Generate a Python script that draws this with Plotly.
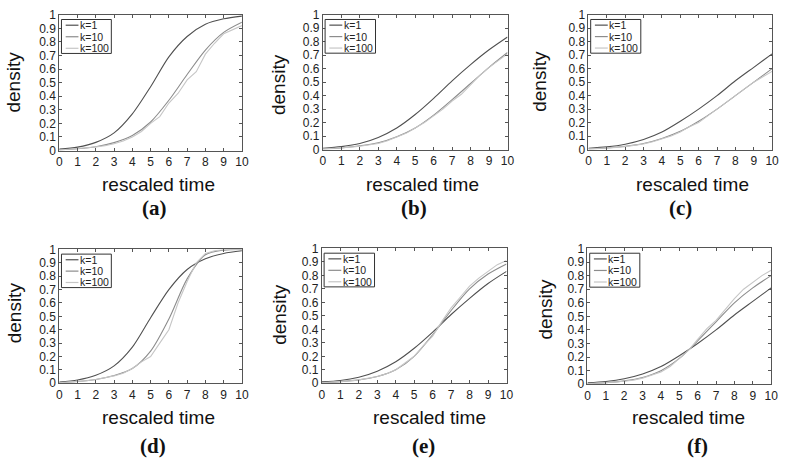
import plotly.graph_objects as go

W, H = 788, 463

# ---------------- data ----------------
x_coarse = [0, 1, 2, 3, 4, 5, 6, 7, 8, 9, 10]
x_fine = [0, 0.5, 1, 1.5, 2, 2.5, 3, 3.5, 4, 4.5, 5, 5.5, 6, 6.5, 7, 7.5, 8, 8.5, 9, 9.5, 10]

series_names = ["k=1", "k=10", "k=100"]
panel_labels = ["(a)", "(b)", "(c)", "(d)", "(e)", "(f)"]
x_ticks = [0, 1, 2, 3, 4, 5, 6, 7, 8, 9, 10]
y_ticks = [0, 0.1, 0.2, 0.3, 0.4, 0.5, 0.6, 0.7, 0.8, 0.9, 1]
y_tick_text = ["0", "0.1", "0.2", "0.3", "0.4", "0.5", "0.6", "0.7", "0.8", "0.9", "1"]

k1_a = [0.01, 0.025, 0.06, 0.13, 0.27, 0.47, 0.69, 0.84, 0.93, 0.97, 0.99]
k1_b = [0.01, 0.022, 0.045, 0.09, 0.16, 0.26, 0.38, 0.51, 0.63, 0.74, 0.835]
k1_c = [0.01, 0.02, 0.04, 0.075, 0.13, 0.21, 0.30, 0.40, 0.51, 0.61, 0.71]
k1_d = [0.01, 0.025, 0.06, 0.13, 0.27, 0.49, 0.70, 0.85, 0.93, 0.97, 0.99]
k1_e = [0.01, 0.02, 0.045, 0.09, 0.16, 0.26, 0.38, 0.51, 0.63, 0.74, 0.83]
k1_f = [0.01, 0.02, 0.04, 0.075, 0.13, 0.21, 0.30, 0.40, 0.51, 0.61, 0.71]

k10_a = [0.005, 0.013, 0.028, 0.058, 0.11, 0.21, 0.37, 0.56, 0.74, 0.87, 0.945]
k10_b = [0.005, 0.012, 0.028, 0.05, 0.095, 0.16, 0.255, 0.37, 0.49, 0.61, 0.72]
k10_c = [0.005, 0.011, 0.024, 0.045, 0.082, 0.135, 0.21, 0.30, 0.40, 0.50, 0.60]
k10_d = [0.005, 0.013, 0.028, 0.058, 0.11, 0.24, 0.48, 0.78, 0.96, 0.995, 1.0]
k10_e = [0.005, 0.012, 0.025, 0.05, 0.10, 0.20, 0.36, 0.54, 0.70, 0.81, 0.885]
k10_f = [0.005, 0.012, 0.025, 0.05, 0.10, 0.19, 0.32, 0.46, 0.60, 0.71, 0.80]

k100_a = [0.004, 0.008, 0.013, 0.02, 0.027, 0.035, 0.05, 0.07, 0.10, 0.14, 0.20,
          0.25, 0.35, 0.42, 0.52, 0.58, 0.71, 0.79, 0.86, 0.89, 0.92]
k100_b = [0.004, 0.007, 0.012, 0.018, 0.025, 0.033, 0.045, 0.065, 0.09, 0.12, 0.16,
          0.20, 0.25, 0.30, 0.36, 0.41, 0.48, 0.55, 0.61, 0.66, 0.71]
k100_c = [0.004, 0.007, 0.011, 0.016, 0.022, 0.03, 0.042, 0.058, 0.078, 0.10, 0.13,
          0.17, 0.20, 0.25, 0.30, 0.35, 0.40, 0.45, 0.50, 0.54, 0.58]
k100_d = [0.004, 0.008, 0.013, 0.02, 0.028, 0.04, 0.055, 0.075, 0.11, 0.16, 0.20,
          0.30, 0.40, 0.60, 0.76, 0.90, 0.97, 0.99, 1.0, 1.0, 1.0]
k100_e = [0.004, 0.007, 0.012, 0.018, 0.025, 0.035, 0.05, 0.07, 0.10, 0.15, 0.20,
          0.28, 0.35, 0.46, 0.56, 0.64, 0.72, 0.78, 0.83, 0.88, 0.91]
k100_f = [0.004, 0.007, 0.011, 0.016, 0.022, 0.03, 0.045, 0.065, 0.09, 0.13, 0.19,
          0.25, 0.33, 0.41, 0.47, 0.55, 0.63, 0.70, 0.75, 0.80, 0.84]

panels = [
    (k1_a, k10_a, k100_a), (k1_b, k10_b, k100_b), (k1_c, k10_c, k100_c),
    (k1_d, k10_d, k100_d), (k1_e, k10_e, k100_e), (k1_f, k10_f, k100_f),
]

# ---------------- layout (pixel boxes: left, right, top, bottom) ----------------
boxes = [
    (57, 242, 8, 148), (324, 511, 8, 147), (593, 779, 8, 147),
    (57, 242, 250, 388), (323, 510, 249, 388), (592, 778, 249, 389),
]
xtitle_pos = [(157, 183), (425, 183), (698, 183), (158, 423), (432, 423), (694, 423)]
ylabel_pos = [(11, 77), (279, 80), (544, 77), (12, 315), (280, 317), (550, 312)]
plabel_pos = [(153, 207), (416, 207), (686, 207), (152, 453), (426, 453), (703, 453)]

colors = ["#505050", "#8c8c8c", "#c6c6c6"]
axis_col = "#555555"
font_fam = "Liberation Sans, Arial, sans-serif"

fig = go.Figure()
layout = dict(
    width=W, height=H, margin=dict(l=0, r=0, t=0, b=0),
    paper_bgcolor="white", plot_bgcolor="white", showlegend=False,
)
annotations = []
shapes = []

def px2x(p):
    return p / W

def px2y(p):
    return 1 - p / H

for i, (ser, box) in enumerate(zip(panels, boxes)):
    n = "" if i == 0 else str(i + 1)
    xa, ya = "x" + n, "y" + n
    l, r, t, b = box
    xs_list = [x_coarse, x_coarse, x_fine]
    for j, (yv, xv) in enumerate(zip(ser, xs_list)):
        fig.add_trace(go.Scatter(
            x=xv, y=yv, mode="lines", name=series_names[j], xaxis=xa, yaxis=ya,
            line=dict(color=colors[j], width=1.1,
                      shape="spline" if j < 2 else "linear", smoothing=0.8),
            showlegend=False, hoverinfo="skip"))
    common = dict(showline=True, linecolor=axis_col, linewidth=1, mirror="ticks",
                  ticks="inside", ticklen=3, tickcolor=axis_col, showgrid=False,
                  zeroline=False,
                  tickfont=dict(family=font_fam, size=12, color="#222"))
    layout["xaxis" + n] = dict(domain=[px2x(l), px2x(r)], range=[0, 10], anchor=ya,
                               tickvals=x_ticks, ticktext=[str(v) for v in x_ticks], **common)
    layout["yaxis" + n] = dict(domain=[px2y(b), px2y(t)], range=[0, 1], anchor=xa,
                               tickvals=y_ticks, ticktext=y_tick_text, **common)

    # legend box
    xd, yd = xa + " domain", ya + " domain"
    shapes.append(dict(type="rect", xref=xd, yref=yd, x0=0.012, x1=0.285, y0=0.715, y1=0.965,
                       line=dict(color="#333", width=1), fillcolor="white"))
    for j in range(3):
        yy = 0.923 - j * 0.085
        shapes.append(dict(type="line", xref=xd, yref=yd, x0=0.035, x1=0.105, y0=yy, y1=yy,
                           line=dict(color=colors[j], width=1.2)))
        annotations.append(dict(xref=xd, yref=yd, x=0.108, y=yy, text=series_names[j],
                                showarrow=False, xanchor="left", yanchor="middle",
                                borderpad=0,
                                font=dict(family=font_fam, size=10.5, color="#222")))

    tx, ty = xtitle_pos[i]
    annotations.append(dict(xref="paper", yref="paper", x=px2x(tx), y=px2y(ty),
                            text="rescaled time", showarrow=False, xanchor="center",
                            yanchor="middle", font=dict(family=font_fam, size=19, color="#111")))
    dx, dy = ylabel_pos[i]
    annotations.append(dict(xref="paper", yref="paper", x=px2x(dx), y=px2y(dy),
                            text="density", showarrow=False, textangle=-90, xanchor="center",
                            yanchor="middle", font=dict(family=font_fam, size=19, color="#111")))
    lx, ly = plabel_pos[i]
    annotations.append(dict(xref="paper", yref="paper", x=px2x(lx), y=px2y(ly),
                            text="<b>" + panel_labels[i] + "</b>", showarrow=False,
                            xanchor="center", yanchor="middle",
                            font=dict(family="Liberation Serif, Times New Roman, serif",
                                      size=21, color="#111")))

layout["annotations"] = annotations
layout["shapes"] = shapes
fig.update_layout(**layout)
fig.write_html("out.html", config={"displayModeBar": False},
               post_script="document.body.style.margin='0';document.body.style.overflow='hidden';")
